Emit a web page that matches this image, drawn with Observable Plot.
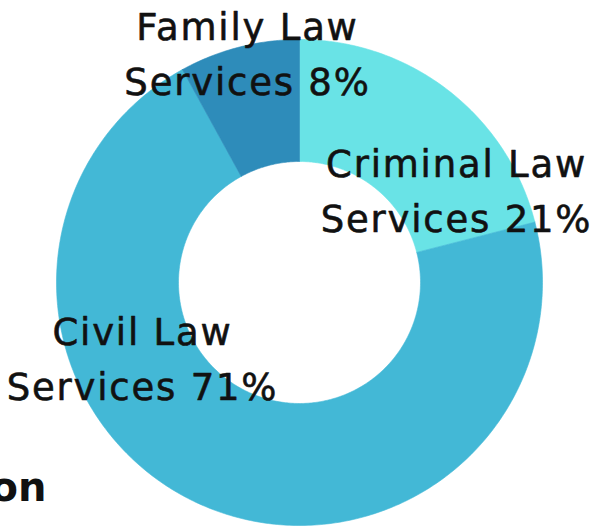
<!DOCTYPE html>
<html>
<head>
<meta charset="utf-8">
<script src="https://cdn.jsdelivr.net/npm/d3@7"></script>
<script src="https://cdn.jsdelivr.net/npm/@observablehq/plot@0.6"></script>
<style>
  html, body { margin: 0; padding: 0; background: #fff; overflow: hidden; }
  #chart { width: 595px; height: 526px; }
</style>
</head>
<body>
<div id="chart"></div>
<script>
// ---- data ----
const categories = ["Criminal Law Services", "Civil Law Services", "Family Law Services"];
const shares = [21, 71, 8];
const labels = ["Criminal Law\nServices 21%", "Civil Law\nServices 71%", "Family Law\nServices 8%"];
const colors = ["#69e3e6", "#43b8d6", "#2e8cba"];
const titleText = "Legal Services Distribution";

// ---- layout (pixel-based, not data) ----
const W = 595, H = 526;
const cx = 299, cy = 282, R = 243, r0 = 121;
const labelCenters = [[456, 186], [142, 354], [247, 49]];

// pie angles (clockwise from 12 o'clock)
const pie = d3.pie().sort(null).value(d => d)(shares);

// slice outlines, sampled along the arcs
const pts = [];
pie.forEach((p, i) => {
  const n = Math.max(8, Math.ceil((p.endAngle - p.startAngle) * 80));
  const ring = [];
  for (let k = 0; k <= n; k++) {
    const a = p.startAngle + (p.endAngle - p.startAngle) * k / n;
    ring.push([R * Math.sin(a), R * Math.cos(a)]);
  }
  for (let k = n; k >= 0; k--) {
    const a = p.startAngle + (p.endAngle - p.startAngle) * k / n;
    ring.push([r0 * Math.sin(a), r0 * Math.cos(a)]);
  }
  ring.push(ring[0]);
  ring.forEach(([x, y]) => pts.push({cat: categories[i], x, y}));
});

const labelData = categories.map((c, i) => ({
  cat: c, text: labels[i],
  x: labelCenters[i][0] - cx, y: cy - labelCenters[i][1]
}));

const chart = Plot.plot({
  width: W, height: H,
  margin: 0,
  x: {domain: [-cx, W - cx], axis: null},
  y: {domain: [cy - H, cy], axis: null},
  color: {domain: categories, range: colors},
  style: {background: "#fff"},
  marks: [
    Plot.line(pts, {x: "x", y: "y", z: "cat", fill: "cat", stroke: "cat", strokeWidth: 0.6, curve: "linear"}),
    Plot.text(labelData, {
      x: "x", y: "y", text: "text",
      fontSize: 37, lineHeight: 1.49, fill: "#111", stroke: "#111", strokeWidth: 0.6,
      fontFamily: "DejaVu Sans", textAnchor: "middle", lineAnchor: "middle"
    }),
    Plot.text([titleText], {
      x: () => 46 - cx, y: () => cy - 488, text: d => d,
      fontSize: 40, fontWeight: "bold", fill: "#111",
      fontFamily: "DejaVu Sans", textAnchor: "end", lineAnchor: "middle"
    })
  ]
});
// widen the slice labels slightly (the text mark group that holds them)
const textGroups = chart.querySelectorAll('g[aria-label="text"]');
if (textGroups[0]) textGroups[0].style.letterSpacing = "1.8px";
document.getElementById("chart").appendChild(chart);
</script>
</body>
</html>
